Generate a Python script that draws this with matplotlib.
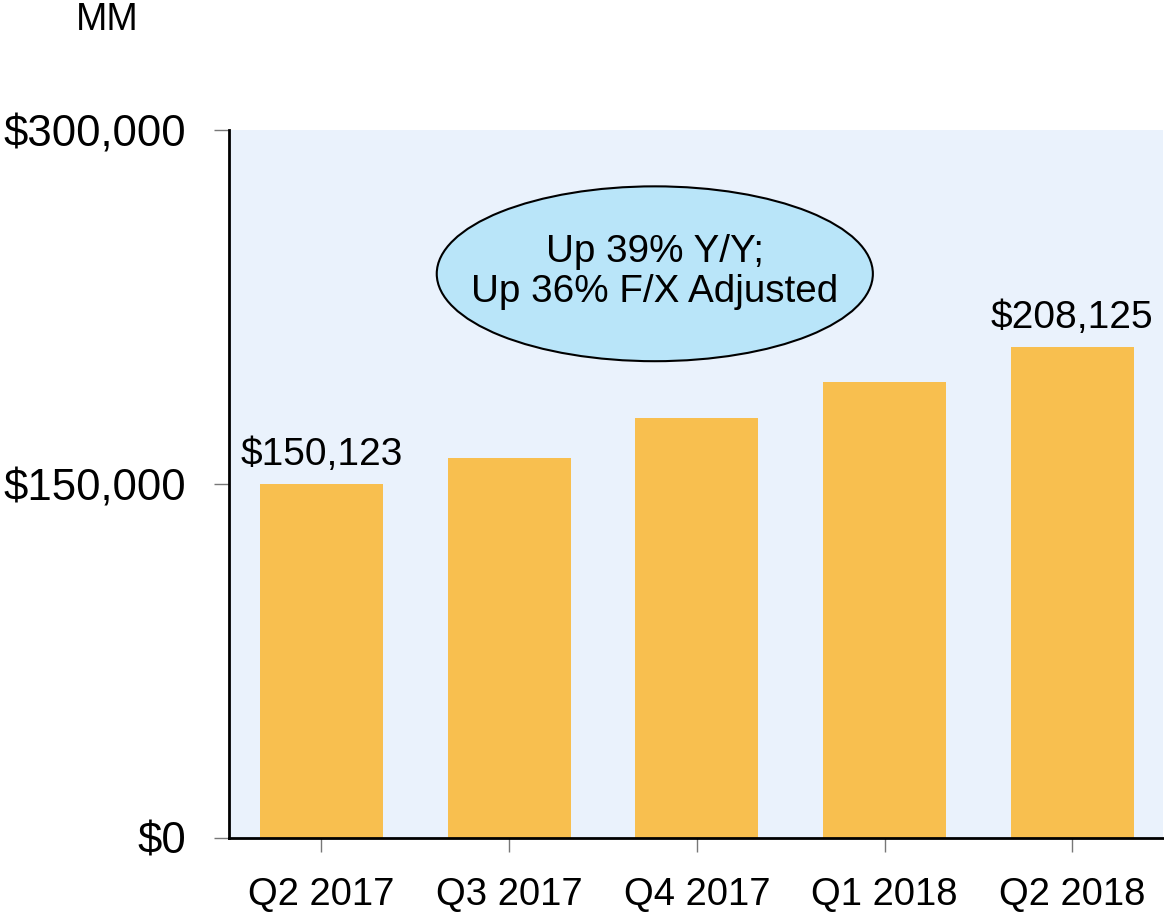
import matplotlib
matplotlib.use("Agg")
import matplotlib.pyplot as plt
from matplotlib.patches import Ellipse

quarters = ["Q2 2017", "Q3 2017", "Q4 2017", "Q1 2018", "Q2 2018"]
revenue = [150123, 161000, 178000, 193200, 208125]
labeled = {0: "$150,123", 4: "$208,125"}
yticks = [0, 150000, 300000]
ytick_labels = ["$0", "$150,000", "$300,000"]

plt.rcParams['font.family'] = ['Liberation Sans', 'DejaVu Sans']

fig = plt.figure(figsize=(11.64, 9.16), dpi=100)
ax = fig.add_axes([0.1967, 0.0852, 0.8023, 0.7728])
ax.set_facecolor('#EAF2FC')

x = list(range(len(quarters)))
ax.bar(x, revenue, width=0.655, color='#F8BF4F', zorder=2)
ax.set_xlim(-0.4927, 4.482)
ax.set_ylim(0, 300000)

for i, txt in labeled.items():
    ax.annotate(txt, (x[i], revenue[i]), xytext=(0, 8), textcoords='offset points',
                ha='center', va='bottom', fontsize=28)

ax.set_xticks(x)
ax.set_xticklabels(quarters, fontsize=27.5)
ax.set_yticks(yticks)
ax.set_yticklabels(ytick_labels, fontsize=31.5)
ax.tick_params(axis='x', length=10, width=1, color='#777777', pad=18)
ax.tick_params(axis='y', length=11, width=1, color='#777777', pad=20)

for s in ['top', 'right']:
    ax.spines[s].set_visible(False)
for s in ['left', 'bottom']:
    ax.spines[s].set_linewidth(2)
    ax.spines[s].set_color('black')

ell = Ellipse((0.456, 0.797), 0.467, 0.247, transform=ax.transAxes,
              facecolor='#B9E5F9', edgecolor='black', linewidth=1.5, zorder=3)
ax.add_patch(ell)
ax.text(0.456, 0.799, "Up 39% Y/Y;\nUp 36% F/X Adjusted", transform=ax.transAxes,
        ha='center', va='center', fontsize=27.8, zorder=4, linespacing=1.15)

fig.text(107/1164, 1 - 20/916, "MM", ha='center', va='center', fontsize=27)

fig.savefig("out.png", dpi=100)
